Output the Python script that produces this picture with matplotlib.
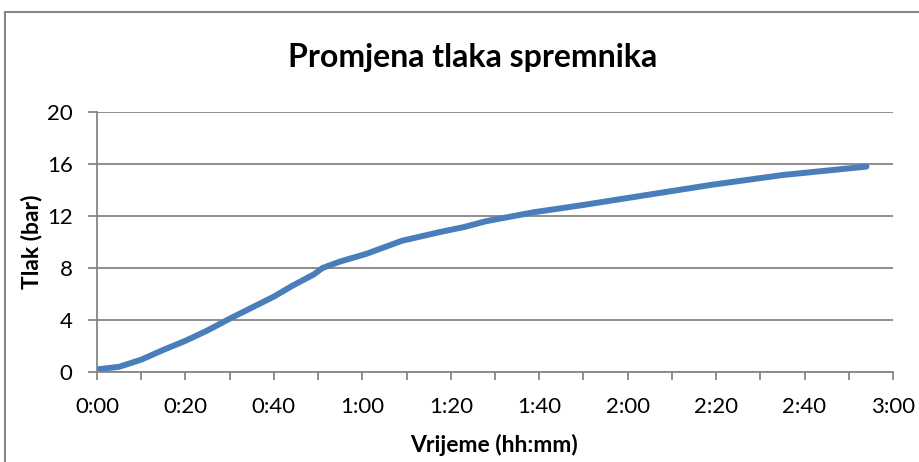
import matplotlib.pyplot as plt
from matplotlib.patches import Rectangle
from matplotlib.ticker import MultipleLocator, FuncFormatter

# vrijeme u minutama i tlak u spremniku (bar)
time_min = [0, 5, 10, 15, 20, 25, 30, 35, 40, 44, 49, 51, 55, 61, 69, 78, 83, 88, 99, 110, 124, 139, 155, 174]
pressure_bar = [0.2, 0.4, 0.95, 1.7, 2.4, 3.2, 4.1, 4.95, 5.8, 6.6, 7.5, 8.0, 8.5, 9.1, 10.1, 10.8, 11.15,
                11.6, 12.3, 12.85, 13.6, 14.4, 15.15, 15.8]

title = 'Promjena tlaka spremnika'
x_label = 'Vrijeme (hh:mm)'
y_label = 'Tlak (bar)'

grey = '#868686'
blue = '#4A7EBB'


def hhmm(x, pos):
    return '%d:%02d' % (int(x) // 60, int(x) % 60)


def main():
    plt.rcParams['font.family'] = ['Lato', 'DejaVu Sans']
    fig = plt.figure(figsize=(9.19, 4.62), dpi=100)
    ax = fig.add_axes([97 / 919, 1 - 372 / 462, 796 / 919, 260 / 462])

    # okvir grafikona
    fig.patches.append(Rectangle((5 / 919, -0.1), 1.2, 1.1 - 12 / 462, transform=fig.transFigure,
                                 fill=False, edgecolor=grey, linewidth=1.5))

    ax.plot(time_min, pressure_bar, color=blue, linewidth=4.3, solid_capstyle='round')

    ax.set_xlim(0, 180)
    ax.set_ylim(0, 20)
    ax.xaxis.set_major_locator(MultipleLocator(20))
    ax.xaxis.set_minor_locator(MultipleLocator(10))
    ax.xaxis.set_major_formatter(FuncFormatter(hhmm))
    ax.yaxis.set_major_locator(MultipleLocator(4))

    ax.grid(axis='y', color=grey, linewidth=1.3)
    ax.set_axisbelow(True)
    for side in ['top', 'right']:
        ax.spines[side].set_visible(False)
    for side in ['left', 'bottom']:
        ax.spines[side].set_color(grey)
        ax.spines[side].set_linewidth(1.3)

    ax.tick_params(axis='both', which='both', color=grey, width=1.3, labelsize=16, direction='out')
    ax.tick_params(axis='x', which='major', length=6, pad=12)
    ax.tick_params(axis='x', which='minor', length=6)
    ax.tick_params(axis='y', length=6.5, pad=11)

    fig.text(473 / 919, 1 - 58 / 462, title, ha='center', va='center', fontsize=23, fontweight='bold')
    fig.text(494 / 919, 1 - 445 / 462, x_label, ha='center', va='center', fontsize=16.5, fontweight='bold')
    fig.text(32 / 919, 1 - 242 / 462, y_label, ha='center', va='center', fontsize=16.5, fontweight='bold',
             rotation=90)

    plt.savefig('out.png', dpi=100)


if __name__ == '__main__':
    main()
